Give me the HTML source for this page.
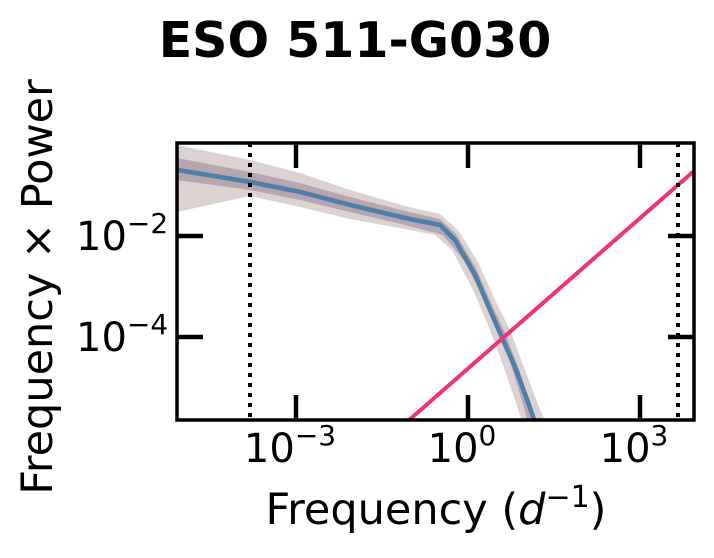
<!DOCTYPE html>
<html><head><style>body{margin:0;background:#fff}</style></head><body>
<svg width="714" height="553" xmlns="http://www.w3.org/2000/svg" font-family="DejaVu Sans, Liberation Sans, sans-serif">
<rect width="714" height="553" fill="#fff"/>
<text x="355" y="57" text-anchor="middle" font-size="49" font-weight="bold">ESO 511-G030</text>
<defs><clipPath id="c"><rect x="177" y="143" width="517" height="277"/></clipPath></defs>
<g clip-path="url(#c)">
<path d="M177,145 L250,160 L300,173 L350,190 L405,206 L440,214 L458,230 L478,262 L495,300 L510,330 L525,370 L540,410 L550,430 L525,430 L515,400 L503,365 L488,325 L473,290 L452,250 L435,235 L405,229 L350,219 L300,207 L250,196 L177,212 Z" fill="#8b6a6a" fill-opacity="0.3"/>
<path d="M177,158 L250,172 L300,183 L350,197 L405,211 L440,219 L456,234 L476,268 L492,305 L506,335 L520,372 L532,410 L540,430 L530,430 L522,400 L510,362 L496,328 L482,295 L465,262 L443,235 L405,225 L350,212 L300,200 L250,190 L177,180 Z" fill="#6a5a70" fill-opacity="0.35"/>
<polyline points="177,169 250,181 300,191 350,204 405,217 440,224 456,240 476,275 491,310 503,338 515,366 528,402 536,425" fill="none" stroke="#e07b2a" stroke-width="3"/>
<polyline points="177,170 250,182 300,192 350,205 405,218 440,225 455,240 475,275 490,310 503,340 515,367 528,402 536,425" fill="none" stroke="#4a7fb0" stroke-width="4.5"/>
<line x1="408" y1="421" x2="694" y2="171" stroke="#ee3377" stroke-width="4"/>
</g>
<line x1="250" y1="143" x2="250" y2="420" stroke="#000" stroke-width="4" stroke-dasharray="4,6"/>
<line x1="678" y1="143" x2="678" y2="420" stroke="#000" stroke-width="4" stroke-dasharray="4,6"/>
<g stroke="#000" stroke-width="4.5">
<line x1="296" y1="143" x2="296" y2="168"/><line x1="468" y1="143" x2="468" y2="168"/><line x1="640" y1="143" x2="640" y2="168"/>
<line x1="296" y1="420" x2="296" y2="395"/><line x1="468" y1="420" x2="468" y2="395"/><line x1="640" y1="420" x2="640" y2="395"/>
<line x1="177" y1="236" x2="203" y2="236"/><line x1="177" y1="337" x2="203" y2="337"/>
<line x1="694" y1="236" x2="668" y2="236"/><line x1="694" y1="337" x2="668" y2="337"/>
</g>
<rect x="177" y="143" width="517" height="277" fill="none" stroke="#000" stroke-width="3.5"/>
<g font-size="40" text-anchor="middle">
<text x="290" y="462">10<tspan dy="-17" font-size="28">−3</tspan></text>
<text x="462" y="462">10<tspan dy="-17" font-size="28">0</tspan></text>
<text x="634" y="462">10<tspan dy="-17" font-size="28">3</tspan></text>
</g>
<g font-size="40" text-anchor="start">
<text x="76" y="250">10<tspan dy="-17" font-size="28">−2</tspan></text>
<text x="76" y="351">10<tspan dy="-17" font-size="28">−4</tspan></text>
</g>
<text x="436" y="524" text-anchor="middle" font-size="43">Frequency (<tspan font-style="italic">d</tspan><tspan dy="-17" font-size="30">−1</tspan><tspan dy="17">)</tspan></text>
<text transform="translate(52,287) rotate(-90)" text-anchor="middle" font-size="43">Frequency × Power</text>
</svg>
</body></html>
